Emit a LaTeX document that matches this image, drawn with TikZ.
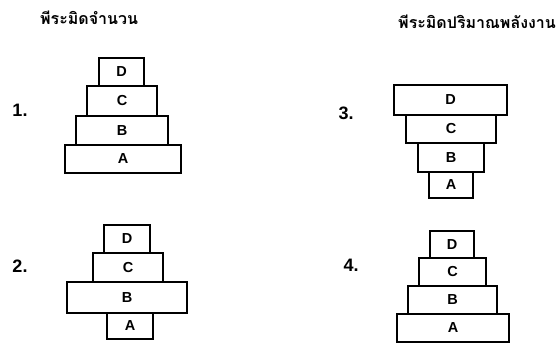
\documentclass[tikz,border=0pt]{standalone}
\usepackage{fontspec}
\setmainfont{Liberation Sans}
\newfontfamily\thaifont[Script=Thai]{Loma}
\begin{document}
\begin{tikzpicture}[x=1pt,y=-1pt,
  blk/.style={draw=black,line width=1.5pt,rectangle,inner sep=0pt,
    font=\fontsize{14.5}{14.5}\selectfont\bfseries},
  num/.style={font=\fontsize{18}{18}\selectfont\bfseries,inner sep=0pt},
  ttl/.style={font=\thaifont\fontsize{16}{16}\selectfont\bfseries,inner sep=0pt,anchor=west}]
\useasboundingbox (0,0) rectangle (556,345);
% titles
\node[ttl] (t1) at (40,18) {พีระมิดจำนวน};
\node[ttl] (t2) at (398,22) {พีระมิดปริมาณพลังงาน};
% labels
\node[num] (n1) at (20,110) {1.};
\node[num] (n2) at (20,266) {2.};
\node[num] (n3) at (346,113) {3.};
\node[num] (n4) at (351,265) {4.};
% pyramid 1
\node[blk,minimum width=45pt,minimum height=28pt] (p1d) at (121.5,72) {D};
\node[blk,minimum width=70pt,minimum height=30pt] (p1c) at (122,101) {C};
\node[blk,minimum width=92pt,minimum height=29pt] (p1b) at (122,130.5) {B};
\node[blk,minimum width=116pt,minimum height=28pt] (p1a) at (123,159) {A};
% pyramid 2
\node[blk,minimum width=46pt,minimum height=28pt] (p2d) at (127,239) {D};
\node[blk,minimum width=70pt,minimum height=29pt] (p2c) at (128,267.5) {C};
\node[blk,minimum width=120pt,minimum height=31pt] (p2b) at (127,297.5) {B};
\node[blk,minimum width=46pt,minimum height=26pt] (p2a) at (130,326) {A};
% pyramid 3
\node[blk,minimum width=113pt,minimum height=30pt] (p3d) at (450.5,100) {D};
\node[blk,minimum width=90pt,minimum height=28pt] (p3c) at (451,129) {C};
\node[blk,minimum width=66pt,minimum height=29pt] (p3b) at (451,157.5) {B};
\node[blk,minimum width=44pt,minimum height=26pt] (p3a) at (451,185) {A};
% pyramid 4
\node[blk,minimum width=44pt,minimum height=27pt] (p4d) at (452,244.5) {D};
\node[blk,minimum width=67pt,minimum height=28pt] (p4c) at (452.5,272) {C};
\node[blk,minimum width=89pt,minimum height=28pt] (p4b) at (452.5,300) {B};
\node[blk,minimum width=112pt,minimum height=28pt] (p4a) at (453,328) {A};
\end{tikzpicture}
\end{document}
